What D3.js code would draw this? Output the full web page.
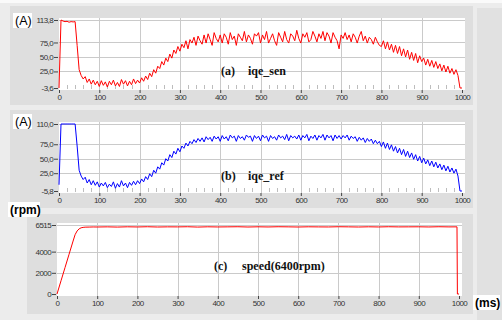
<!DOCTYPE html>
<html>
<head>
<meta charset="utf-8">
<script src="https://cdn.jsdelivr.net/npm/d3@7"></script>
<style>
  html, body { margin: 0; padding: 0; background: #ececec; }
  svg { display: block; }
</style>
</head>
<body>
<svg id="chart" width="502" height="320"></svg>
<script>
// sampling step of the two current traces (ms)
const timeStep = 5;

// (a) iqe_sen, A, one row per 100 ms
const iqeSen = [
  -3.6, 113.8, 112, 111, 111.5, 110, 111, 110.5, 111, 70, 28, 18, 12, 16, 6, 12, 3, 10, 2, 8,
  -1, 9, 1, 7, -2, 8, 2, 10, 0, 6, -1, 11, 3, 9, 0, 8, 2, 12, 4, 10,
  5, 14, 8, 17, 11, 22, 16, 28, 22, 34, 30, 42, 36, 48, 42, 55, 48, 62, 56, 68,
  60, 72, 66, 78, 64, 80, 74, 84, 70, 86, 78, 72, 88, 74, 90, 80, 70, 92, 82, 76,
  88, 74, 90, 84, 72, 92, 80, 86, 70, 90, 84, 78, 94, 76, 88, 82, 72, 90, 86, 92,
  74, 88, 80, 94, 74, 82, 90, 78, 70, 92, 84, 76, 94, 80, 74, 90, 86, 78, 96, 82,
  74, 90, 84, 92, 76, 80, 94, 86, 76, 90, 82, 94, 78, 92, 86, 74, 92, 84, 78, 64,
  88, 82, 92, 80, 88, 76, 90, 84, 74, 86, 94, 78, 86, 74, 84, 80, 72, 84, 76, 70,
  68, 78, 64, 76, 62, 72, 58, 70, 56, 68, 52, 64, 50, 62, 46, 58, 44, 56, 40, 52,
  42, 48, 36, 46, 34, 44, 32, 42, 30, 38, 26, 36, 24, 34, 22, 30, 20, 28, 18, -3.6,
  -3.6
];

// (b) iqe_ref, A, one row per 100 ms
const iqeRef = [
  5, 110, 110, 110, 110, 110, 110, 110, 110, 72, 30, 20, 14, 18, 8, 14, 5, 12, 4, 10,
  1, 8, 3, 9, 0, 6, 2, 10, -1, 7, 1, 12, 3, 8, 0, 9, 4, 11, 5, 12,
  7, 15, 10, 19, 14, 24, 19, 30, 25, 36, 32, 43, 39, 50, 46, 57, 52, 63, 58, 68,
  62, 72, 68, 77, 72, 80, 76, 83, 78, 85, 80, 86, 79, 88, 83, 87, 80, 89, 84, 88,
  80, 90, 84, 88, 81, 91, 86, 89, 80, 90, 85, 88, 82, 91, 87, 89, 80, 90, 85, 89,
  81, 91, 86, 89, 80, 90, 85, 88, 82, 91, 86, 89, 83, 92, 81, 90, 86, 89, 84, 91,
  82, 90, 86, 92, 81, 89, 85, 91, 82, 90, 86, 92, 82, 91, 86, 90, 81, 91, 85, 90,
  84, 90, 86, 91, 82, 89, 85, 88, 80, 87, 82, 86, 78, 85, 80, 84, 76, 82, 76, 80,
  71, 79, 68, 77, 66, 74, 63, 71, 60, 68, 57, 66, 54, 63, 52, 60, 49, 57, 46, 54,
  43, 51, 41, 48, 38, 46, 36, 44, 34, 41, 31, 39, 29, 37, 27, 34, 25, 32, 20, -5.8,
  -5.8
];

// (c) speed, rpm
const speedTimes = [0, 10, 20, 30, 40, 45, 50, 55, 60, 65, 70, 80, 90, 100,
  125, 150, 175, 200, 225, 250, 275, 300, 325, 350, 375, 400, 425, 450, 475, 500,
  525, 550, 575, 600, 625, 650, 675, 700, 725, 750, 775, 800, 825, 850, 875, 900,
  925, 950, 975, 995, 996, 1000];
const speedRpm = [0, 1250, 2500, 3750, 5000, 5600, 5950, 6150, 6250, 6290, 6310, 6320, 6330, 6325,
  6340, 6320, 6345, 6330, 6350, 6325, 6340, 6335, 6350, 6320, 6345, 6330, 6340, 6350, 6325, 6345,
  6330, 6350, 6340, 6325, 6345, 6335, 6330, 6350, 6340, 6325, 6345, 6330, 6350, 6335, 6340, 6345,
  6330, 6350, 6335, 6340, 0, 0];

const timeTicks = [0, 100, 200, 300, 400, 500, 600, 700, 800, 900, 1000];
const minorTimeTicks = d3.range(20, 1000, 20).filter(t => t % 100 !== 0);
const senTicks = [113.8, 75, 50, 25, -3.6];
const refTicks = [110, 75, 50, 25, -5.8];
const speedTicks = [6515, 4000, 2000, 0];

const commaFmt = d => d.toFixed(1).replace('.', ',');

const svg = d3.select('#chart');

// right hand strip of the window
svg.append('rect').attr('x', 477).attr('y', 8).attr('width', 25).attr('height', 312).attr('fill', '#e1e1e1');
svg.append('rect').attr('x', 0).attr('y', 0).attr('width', 502).attr('height', 3).attr('fill', '#fafafa');

function drawPanel(o) {
  const g = svg.append('g');
  g.append('rect')
    .attr('x', o.box[0]).attr('y', o.box[1])
    .attr('width', o.box[2] - o.box[0]).attr('height', o.box[3] - o.box[1])
    .attr('fill', '#dedede');

  const x = d3.scaleLinear().domain([0, 1000]).range([o.x0, o.x1]);
  const y = d3.scaleLinear().domain(o.yDomain).range([o.yBot, o.yTop]);

  g.append('rect')
    .attr('x', o.x0).attr('y', o.yTop - 2)
    .attr('width', o.x1 - o.x0 + 3).attr('height', o.yBot - o.yTop + 4)
    .attr('fill', '#ffffff');

  // grid
  g.append('g').selectAll('line')
    .data(timeTicks.slice(1, -1))
    .join('line')
    .attr('x1', d => Math.round(x(d)) + 0.5).attr('x2', d => Math.round(x(d)) + 0.5)
    .attr('y1', o.yTop - 2).attr('y2', o.yBot + 2)
    .attr('stroke', '#cacaca');
  g.append('g').selectAll('line')
    .data(o.yTicks.slice(0, -1))
    .join('line')
    .attr('x1', o.x0).attr('x2', o.x1 + 3)
    .attr('y1', d => Math.round(y(d)) + 0.5).attr('y2', d => Math.round(y(d)) + 0.5)
    .attr('stroke', '#cacaca');

  if (o.minor) {
    g.append('g').selectAll('line')
      .data(minorTimeTicks)
      .join('line')
      .attr('x1', d => Math.round(x(d)) + 0.5).attr('x2', d => Math.round(x(d)) + 0.5)
      .attr('y1', o.yBot - 3).attr('y2', o.yBot + 1)
      .attr('stroke', '#bdbdbd');
  }

  // axes
  const yAxis = g.append('g')
    .attr('transform', `translate(${o.x0 - 1},0)`)
    .call(d3.axisLeft(y).tickValues(o.yTicks).tickFormat(o.fmt).tickSize(4).tickPadding(1));
  const xAxis = g.append('g')
    .attr('transform', `translate(0,${o.yBot + 2})`)
    .call(d3.axisBottom(x).tickValues(timeTicks).tickFormat(d3.format('d')).tickSize(3).tickPadding(1));
  [yAxis, xAxis].forEach(a => {
    a.select('.domain').remove();
    a.selectAll('line').attr('stroke', '#444');
    a.selectAll('text')
      .attr('fill', '#333')
      .attr('font-family', 'Liberation Sans, Arial, sans-serif')
      .attr('font-size', 8)
      .style('letter-spacing', '-0.6px');
  });

  const line = d3.line().x(d => x(d.t)).y(d => y(d.v));
  g.append('path')
    .datum(o.data)
    .attr('d', line)
    .attr('fill', 'none')
    .attr('stroke', o.color)
    .attr('stroke-width', 1);

  // caption inside the plot
  o.caption.forEach(c => {
    g.append('text')
      .attr('x', c[0]).attr('y', c[1])
      .attr('font-family', 'Liberation Serif, Times New Roman, serif')
      .attr('font-weight', 'bold')
      .attr('font-size', 12)
      .attr('fill', '#111')
      .text(c[2]);
  });
}

function unitLabel(txt, x, yBase, w, bold) {
  svg.append('rect').attr('x', x - 2).attr('y', yBase - 12).attr('width', w).attr('height', 15).attr('fill', '#ffffff');
  svg.append('text')
    .attr('x', x).attr('y', yBase)
    .attr('font-family', 'Liberation Sans, Arial, sans-serif')
    .attr('font-size', bold ? 12 : 12.5)
    .attr('font-weight', bold ? 'bold' : 'normal')
    .attr('fill', '#000')
    .text(txt);
}

drawPanel({
  box: [10, 6, 473, 105], x0: 59, x1: 462, yTop: 20, yBot: 88,
  yDomain: [-3.6, 113.8], yTicks: senTicks, fmt: commaFmt, minor: true,
  data: iqeSen.map((v, i) => ({ t: i * timeStep, v })), color: '#ff0000',
  caption: [[221, 75, '(a)'], [248, 75, 'iqe_sen']]
});
drawPanel({
  box: [10, 110, 473, 208], x0: 59, x1: 462, yTop: 124, yBot: 191,
  yDomain: [-5.8, 110], yTicks: refTicks, fmt: commaFmt, minor: true,
  data: iqeRef.map((v, i) => ({ t: i * timeStep, v })), color: '#0000ff',
  caption: [[221, 180, '(b)'], [248, 180, 'iqe_ref']]
});
drawPanel({
  box: [27, 214, 473, 314], x0: 57, x1: 459, yTop: 225, yBot: 294,
  yDomain: [0, 6515], yTicks: speedTicks, fmt: d3.format('d'), minor: false,
  data: speedTimes.map((t, i) => ({ t, v: speedRpm[i] })), color: '#ff0000',
  caption: [[214, 270, '(c)'], [242, 270, 'speed(6400rpm)']]
});

unitLabel('(A)', 15, 25, 19, false);
unitLabel('(A)', 15, 126, 19, false);
unitLabel('(rpm)', 10, 214, 32, true);
unitLabel('(ms)', 475, 307, 27, true);
</script>
</body>
</html>
